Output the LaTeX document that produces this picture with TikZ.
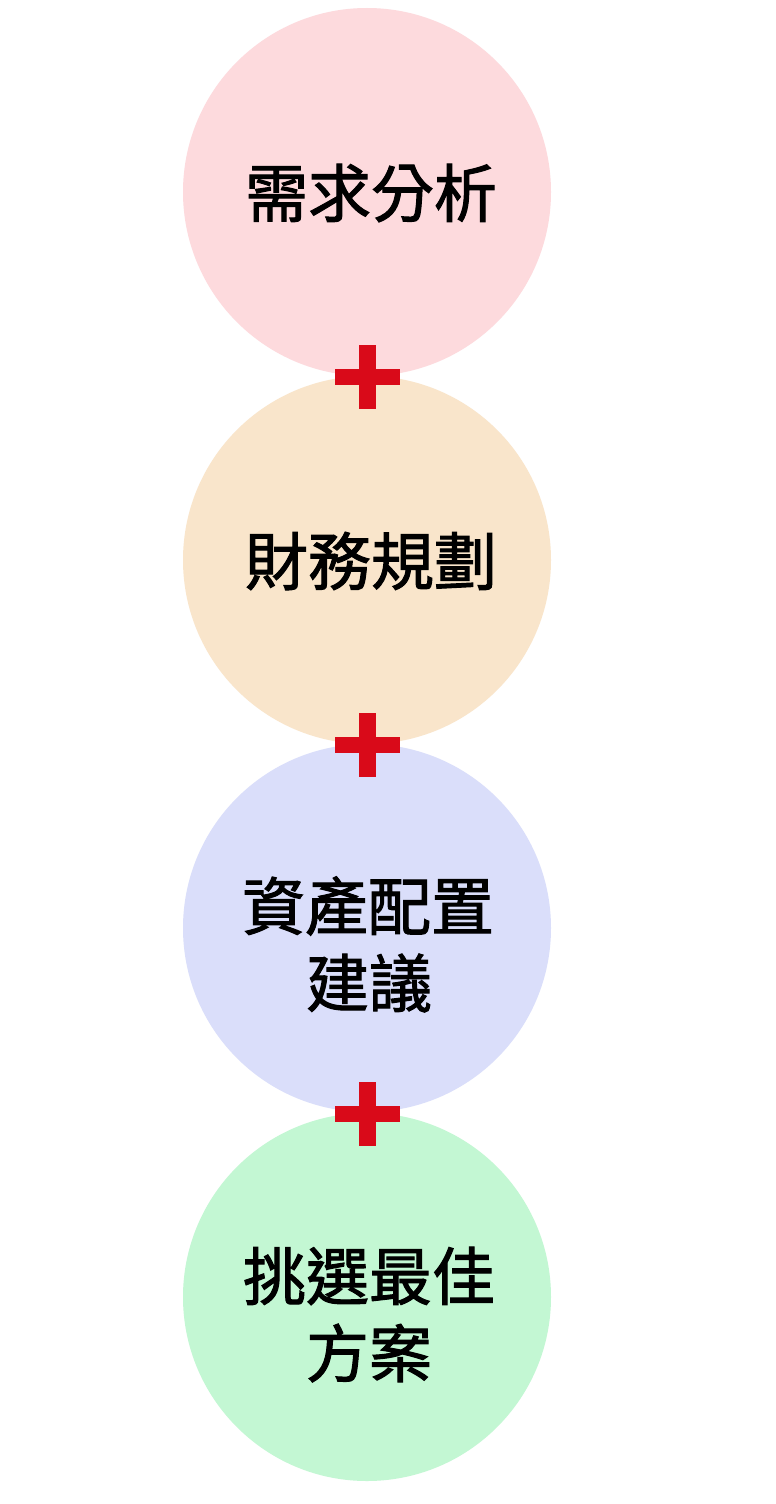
\documentclass[tikz,border=0pt]{standalone}
\usepackage{fontspec}
\newfontfamily\cjk{Noto Sans CJK TC}[FakeBold=1.6]
\tikzset{
  stage/.style={circle, minimum size=368pt, inner sep=0pt, draw=none},
  lbl/.style={font=\cjk\fontsize{63pt}{74pt}\selectfont, text=black, inner sep=0pt},
}
\definecolor{pinkc}{HTML}{FDDADD}
\definecolor{peachc}{HTML}{F9E5CB}
\definecolor{lavc}{HTML}{DADEFA}
\definecolor{greenc}{HTML}{C3F7D3}
\definecolor{plusred}{HTML}{D90A19}
\begin{document}
\begin{tikzpicture}[x=1pt,y=-1pt]
\useasboundingbox[fill=white] (0,0) rectangle (776,1504);
\node[stage, fill=pinkc]  (c1) at (367,192) {};
\node[stage, fill=peachc] (c2) at (367,560) {};
\node[stage, fill=lavc]   (c3) at (367,928) {};
\node[stage, fill=greenc] (c4) at (367,1297) {};
\node[lbl] (t1) at (371,193) {需求分析};
\node[lbl] (t2) at (371,561) {財務規劃};
\node[lbl] (t3a) at (368,906) {資產配置};
\node[lbl] (t3b) at (369,983) {建議};
\node[lbl] (t4a) at (369,1276) {挑選最佳};
\node[lbl] (t4b) at (369,1353) {方案};
\foreach \y in {377,745,1114}{
  \fill[plusred] (359,\y-32) rectangle (376,\y+32);
  \fill[plusred] (335,\y-8) rectangle (400,\y+8);
}
\end{tikzpicture}
\end{document}
